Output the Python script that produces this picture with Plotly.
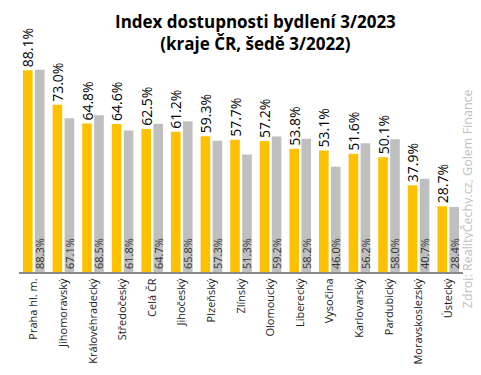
import plotly.graph_objects as go

categories = ["Praha hl. m.", "Jihomoravský", "Královéhradecký", "Středočeský", "Celá ČR",
              "Jihočeský", "Plzeňský", "Zlínský", "Olomoucký", "Liberecký", "Vysočina",
              "Karlovarský", "Pardubický", "Moravskoslezský", "Ústecký"]
values_2023 = [88.1, 73.0, 64.8, 64.6, 62.5, 61.2, 59.3, 57.7, 57.2, 53.8, 53.1, 51.6, 50.1, 37.9, 28.7]
values_2022 = [88.3, 67.1, 68.5, 61.8, 64.7, 65.8, 57.3, 51.3, 59.2, 58.2, 46.0, 56.2, 58.0, 40.7, 28.4]

FONT = "Open Sans"

fig = go.Figure()
fig.add_trace(go.Bar(
    x=categories, y=values_2023, name="3/2023",
    marker=dict(color="#FFC000", line=dict(width=0)),
    text=[f"{v:.1f}%" for v in values_2023],
    textposition="outside", textangle=-90, constraintext="none", cliponaxis=False,
    outsidetextfont=dict(family=FONT, size=14, color="#000000"),
))
fig.add_trace(go.Bar(
    x=categories, y=values_2022, name="3/2022",
    marker=dict(color="#BFBFBF", line=dict(width=0)),
    text=[f"{v:.1f}%" for v in values_2022],
    textposition="inside", insidetextanchor="start", textangle=-90, constraintext="none",
    insidetextfont=dict(family=FONT, size=11, color="#333333"),
))

fig.update_layout(
    width=473, height=359,
    margin=dict(l=11, r=18, t=35, b=95, autoexpand=False),
    paper_bgcolor="white", plot_bgcolor="white",
    barmode="group", bargap=0.19, bargroupgap=0.2,
    showlegend=False,
    xaxis=dict(showline=True, linecolor="#898989", linewidth=2, tickangle=-90,
               ticks="", tickfont=dict(family=FONT, size=11, color="#222222"),
               showgrid=False, fixedrange=True, automargin=False),
    yaxis=dict(range=[0, 100], visible=False, showgrid=False, fixedrange=True,
               automargin=False),
)

fig.add_annotation(
    text="<b>Index dostupnosti bydlení 3/2023<br>(kraje ČR, šedě 3/2022)</b>",
    xref="paper", yref="paper", x=0.5, y=1, xanchor="center", yanchor="middle",
    xshift=14, yshift=11, showarrow=False, align="center",
    font=dict(family=FONT, size=17, color="#000000"),
)

fig.add_annotation(
    text="Zdroj: RealityČechy.cz, Golem Finance", xref="paper", yref="paper",
    x=1.01, y=0.32, xanchor="center", yanchor="middle", textangle=-90, showarrow=False,
    font=dict(family=FONT, size=12.5, color="#C0C0C0"),
)

fig.write_html("out.html")
